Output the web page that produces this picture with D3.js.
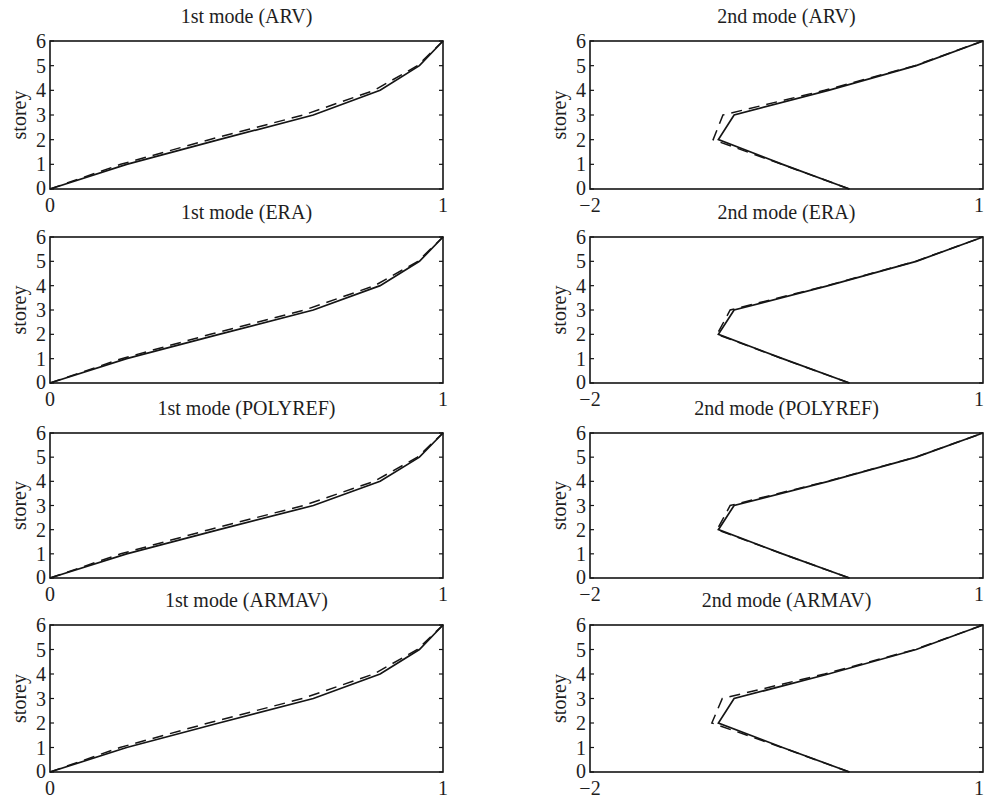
<!DOCTYPE html>
<html>
<head>
<meta charset="utf-8">
<script src="https://cdn.jsdelivr.net/npm/d3@7"></script>
<style>
  html, body { margin: 0; padding: 0; background: #fff; }
  svg { display: block; }
  text { font-family: "Liberation Serif", "DejaVu Serif", serif; fill: #1e1e1e; }
</style>
</head>
<body>
<svg id="chart" width="984" height="800"></svg>
<script>
// ---- data ----
const storeys = [0, 1, 2, 3, 4, 5, 6];
const methods = ["ARV", "ERA", "POLYREF", "ARMAV"];

// 1st mode: solid (reference) and dashed (identified) shapes
const mode1Solid = [0, 0.195, 0.43, 0.67, 0.84, 0.94, 1.0];
const mode1ARV     = [0, 0.18, 0.405, 0.645, 0.825, 0.935, 1.0];
const mode1ERA     = [0, 0.182, 0.408, 0.648, 0.826, 0.936, 1.0];
const mode1POLYREF = [0, 0.18, 0.405, 0.645, 0.825, 0.935, 1.0];
const mode1ARMAV   = [0, 0.178, 0.403, 0.643, 0.824, 0.935, 1.0];

// 2nd mode
const mode2Solid = [-0.02, -0.53, -1.02, -0.9, -0.18, 0.49, 1.0];
const mode2ARV     = [-0.02, -0.535, -1.06, -0.985, -0.21, 0.48, 1.0];
const mode2ERA     = [-0.02, -0.532, -1.03, -0.93, -0.19, 0.485, 1.0];
const mode2POLYREF = [-0.02, -0.532, -1.03, -0.93, -0.19, 0.485, 1.0];
const mode2ARMAV   = [-0.02, -0.535, -1.07, -0.99, -0.21, 0.48, 1.0];

const mode1Dashed = [mode1ARV, mode1ERA, mode1POLYREF, mode1ARMAV];
const mode2Dashed = [mode2ARV, mode2ERA, mode2POLYREF, mode2ARMAV];

const mode1XTicks = [0, 1];
const mode2XTicks = [-2, 1];
const yTicks = [0, 1, 2, 3, 4, 5, 6];

// ---- layout ----
const svg = d3.select("#chart");
const tops = [41, 237, 433, 625];
const bottoms = [189, 383, 578, 772];
const cols = [
  { x0: 50, x1: 443, domain: [0, 1], ticks: mode1XTicks, title: "1st mode", solid: mode1Solid, dashed: mode1Dashed },
  { x0: 590, x1: 983, domain: [-2, 1], ticks: mode2XTicks, title: "2nd mode", solid: mode2Solid, dashed: mode2Dashed }
];
const ink = "#151515";
const fs = 20;
const W = 984;

cols.forEach(col => {
  methods.forEach((m, i) => {
    const x = d3.scaleLinear().domain(col.domain).range([col.x0, col.x1]);
    const y = d3.scaleLinear().domain([0, 6]).range([bottoms[i], tops[i]]);
    const g = svg.append("g");

    // frame
    g.append("rect")
      .attr("x", col.x0).attr("y", tops[i])
      .attr("width", col.x1 - col.x0).attr("height", bottoms[i] - tops[i])
      .attr("fill", "none").attr("stroke", ink).attr("stroke-width", 1.6);

    // y ticks (inside, both sides)
    yTicks.forEach(t => {
      g.append("line").attr("x1", col.x0).attr("x2", col.x0 + 4)
        .attr("y1", y(t)).attr("y2", y(t)).attr("stroke", ink).attr("stroke-width", 1.2);
      g.append("line").attr("x1", col.x1).attr("x2", col.x1 - 4)
        .attr("y1", y(t)).attr("y2", y(t)).attr("stroke", ink).attr("stroke-width", 1.2);
      g.append("text").attr("x", col.x0 - 4).attr("y", y(t) - (t === 0 ? 1 : 0)).attr("dy", "0.35em")
        .attr("text-anchor", "end").attr("font-size", fs).text(t);
    });

    // x tick labels
    col.ticks.forEach(t => {
      const px = x(t);
      const atEdge = px + 6 > W;
      g.append("text").attr("x", atEdge ? W : px).attr("y", bottoms[i] + 16).attr("dy", "0.35em")
        .attr("text-anchor", atEdge ? "end" : "middle").attr("font-size", fs)
        .text(t < 0 ? "\u2212" + Math.abs(t) : t);
    });

    // title
    g.append("text").attr("x", (col.x0 + col.x1) / 2).attr("y", tops[i] - 25).attr("dy", "0.35em")
      .attr("text-anchor", "middle").attr("font-size", fs).text(`${col.title} (${m})`);

    // y label
    const ly = (tops[i] + bottoms[i]) / 2;
    g.append("text").attr("transform", `translate(${col.x0 - 31},${ly}) rotate(-90)`)
      .attr("dy", "0.35em").attr("text-anchor", "middle").attr("font-size", fs).text("storey");

    const line = d3.line().x(d => x(d[0])).y(d => y(d[1]));

    g.append("path")
      .datum(col.dashed[i].map((v, k) => [v, storeys[k]]))
      .attr("d", line).attr("fill", "none").attr("stroke", ink)
      .attr("stroke-width", 1.5).attr("stroke-dasharray", "11,7");

    g.append("path")
      .datum(col.solid.map((v, k) => [v, storeys[k]]))
      .attr("d", line).attr("fill", "none").attr("stroke", ink)
      .attr("stroke-width", 1.7);
  });
});
</script>
</body>
</html>
